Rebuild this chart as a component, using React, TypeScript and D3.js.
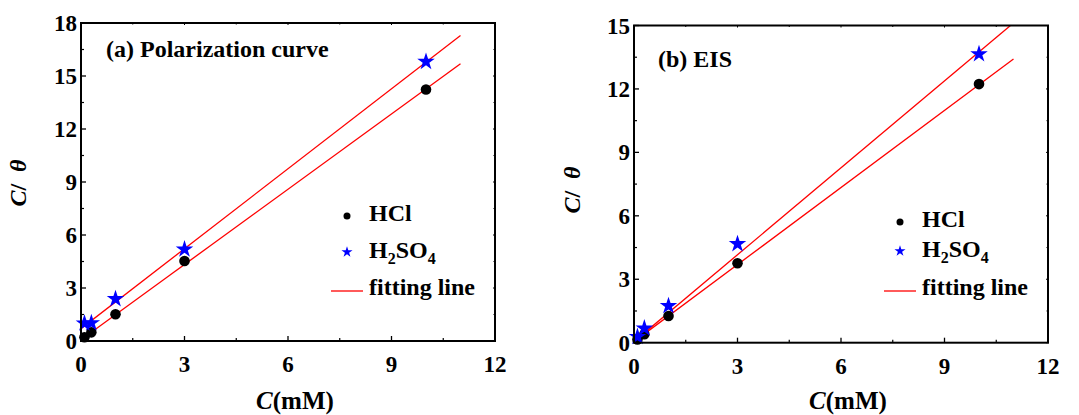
import React from "react";
import * as d3 from "d3";

const concA = [0.1, 0.3, 1, 3, 10];
const hclA = [0.21, 0.49, 1.51, 4.53, 14.24];
const h2so4A = [1.0, 1.02, 2.38, 5.19, 15.81];
const fitA_hcl = [0.07, 1.42]; // intercept, slope
const fitA_h2so4 = [0.7, 1.508];

const concB = [0.1, 0.3, 1, 3, 10];
const hclB = [0.15, 0.4, 1.26, 3.76, 12.23];
const h2so4B = [0.28, 0.68, 1.74, 4.67, 13.65];
const fitB_hcl = [0.05, 1.215];
const fitB_h2so4 = [0.05, 1.37];

const fitRange = [0, 11];
const xTicks = [0, 3, 6, 9, 12];
const xMinor = [1.5, 4.5, 7.5, 10.5];
const yTicksA = [0, 3, 6, 9, 12, 15, 18];
const yMinorA = [1.5, 4.5, 7.5, 10.5, 13.5, 16.5];
const yTicksB = [0, 3, 6, 9, 12, 15];
const yMinorB = [1.5, 4.5, 7.5, 10.5, 13.5];

const FONT = "'Liberation Serif', 'Times New Roman', serif";

type PanelProps = {
  id: string;
  left: number; right: number; top: number; bottom: number;
  yMax: number; yTicks: number[]; yMinor: number[];
  conc: number[]; hcl: number[]; h2so4: number[];
  fitHcl: number[]; fitH2so4: number[];
  title: string; titleX: number; titleY: number;
  legX: number; legY1: number; legY2: number; legY3: number;
  yLabelX: number; yLabelY: number; xLabelX: number;
};

function Panel(p: PanelProps) {
  const x = d3.scaleLinear().domain([0, 12]).range([p.left, p.right]);
  const y = d3.scaleLinear().domain([0, p.yMax]).range([p.bottom, p.top]);
  const starBig = d3.symbol().type(d3.symbolStar).size(95)() as string;
  const starSmall = d3.symbol().type(d3.symbolStar).size(38)() as string;
  const fitPath = (f: number[]) =>
    d3.line<number>().x((d) => x(d)).y((d) => y(f[0] + f[1] * d))(fitRange) as string;
  const clipId = "clip-" + p.id;
  return (
    <g fontFamily={FONT}>
      <defs>
        <clipPath id={clipId}>
          <rect x={p.left} y={p.top} width={p.right - p.left} height={p.bottom - p.top} />
        </clipPath>
      </defs>
      {xTicks.map((t) => (
        <g key={"xt" + t}>
          <line x1={x(t)} x2={x(t)} y1={p.bottom} y2={p.bottom - 5} stroke="#000" strokeWidth={1.3} />
          <line x1={x(t)} x2={x(t)} y1={p.top} y2={p.top + 2} stroke="#000" strokeWidth={1} />
          <text x={x(t)} y={p.bottom + 31} textAnchor="middle" fontSize={23} fontWeight="bold">{t}</text>
        </g>
      ))}
      {xMinor.map((t) => (
        <g key={"xm" + t}>
          <line x1={x(t)} x2={x(t)} y1={p.bottom} y2={p.bottom - 3} stroke="#000" strokeWidth={1.2} />
          <line x1={x(t)} x2={x(t)} y1={p.top} y2={p.top + 1.5} stroke="#000" strokeWidth={1} />
        </g>
      ))}
      {p.yTicks.map((t) => (
        <g key={"yt" + t}>
          <line x1={p.left} x2={p.left + 5} y1={y(t)} y2={y(t)} stroke="#000" strokeWidth={1.3} />
          <line x1={p.right} x2={p.right - 2} y1={y(t)} y2={y(t)} stroke="#000" strokeWidth={1} />
          <text x={p.left - 4} y={y(t) + 8} textAnchor="end" fontSize={23} fontWeight="bold">{t}</text>
        </g>
      ))}
      {p.yMinor.map((t) => (
        <g key={"ym" + t}>
          <line x1={p.left} x2={p.left + 3} y1={y(t)} y2={y(t)} stroke="#000" strokeWidth={1.2} />
          <line x1={p.right} x2={p.right - 1.5} y1={y(t)} y2={y(t)} stroke="#000" strokeWidth={1} />
        </g>
      ))}
      <g clipPath={`url(#${clipId})`}>
        <path d={fitPath(p.fitHcl)} fill="none" stroke="#ff0000" strokeWidth={1.3} />
        <path d={fitPath(p.fitH2so4)} fill="none" stroke="#ff0000" strokeWidth={1.3} />
      </g>
      {p.conc.map((c, i) => (
        <circle key={"h" + i} cx={x(c)} cy={y(p.hcl[i])} r={5.3} fill="#000" />
      ))}
      {p.conc.map((c, i) => (
        <path key={"s" + i} d={starBig} transform={`translate(${x(c)},${y(p.h2so4[i])})`} fill="#0000ff" />
      ))}
      <rect x={p.left} y={p.top} width={p.right - p.left} height={p.bottom - p.top} fill="none" stroke="#000" strokeWidth={2} />
      <text x={p.titleX} y={p.titleY} fontSize={24} fontWeight="bold">{p.title}</text>
      <circle cx={p.legX + 16} cy={p.legY1 - 5} r={3.5} fill="#000" />
      <text x={p.legX + 38} y={p.legY1} fontSize={24} fontWeight="bold">HCl</text>
      <path d={starSmall} transform={`translate(${p.legX + 16},${p.legY2 - 6})`} fill="#0000ff" />
      <text x={p.legX + 38} y={p.legY2} fontSize={24} fontWeight="bold">
        H<tspan fontSize={16} dy={6}>2</tspan><tspan dy={-6}>SO</tspan><tspan fontSize={16} dy={6}>4</tspan>
      </text>
      <line x1={p.legX} x2={p.legX + 32} y1={p.legY3 - 4} y2={p.legY3 - 4} stroke="#ff0000" strokeWidth={1.3} />
      <text x={p.legX + 38} y={p.legY3} fontSize={24} fontWeight="bold">fitting line</text>
      <text x={p.xLabelX} y={409} textAnchor="middle" fontSize={25} fontWeight="bold">
        <tspan fontStyle="italic">C</tspan>(mM)
      </text>
      <text transform={`translate(${p.yLabelX},${p.yLabelY}) rotate(-90)`} textAnchor="middle" fontSize={24} fontWeight="bold">
        <tspan fontStyle="italic">C</tspan>{"/\u00A0\u00A0"}<tspan fontStyle="italic">θ</tspan>
      </text>
    </g>
  );
}

export default function App() {
  return (
    <svg width={1079} height={415} style={{ position: "absolute", left: 0, top: 0, background: "#fff" }}>
      <rect x={0} y={0} width={1079} height={415} fill="#fff" />
      <Panel
        id="a" left={81} right={495} top={23} bottom={341}
        yMax={18} yTicks={yTicksA} yMinor={yMinorA}
        conc={concA} hcl={hclA} h2so4={h2so4A}
        fitHcl={fitA_hcl} fitH2so4={fitA_h2so4}
        title="(a) Polarization curve" titleX={106} titleY={57}
        legX={331} legY1={221} legY2={258} legY3={295}
        yLabelX={26} yLabelY={183} xLabelX={295}
      />
      <Panel
        id="b" left={634} right={1048} top={25.5} bottom={342.7}
        yMax={15} yTicks={yTicksB} yMinor={yMinorB}
        conc={concB} hcl={hclB} h2so4={h2so4B}
        fitHcl={fitB_hcl} fitH2so4={fitB_h2so4}
        title="(b) EIS" titleX={658} titleY={67}
        legX={884} legY1={227} legY2={257} legY3={295}
        yLabelX={580} yLabelY={190} xLabelX={848}
      />
    </svg>
  );
}
